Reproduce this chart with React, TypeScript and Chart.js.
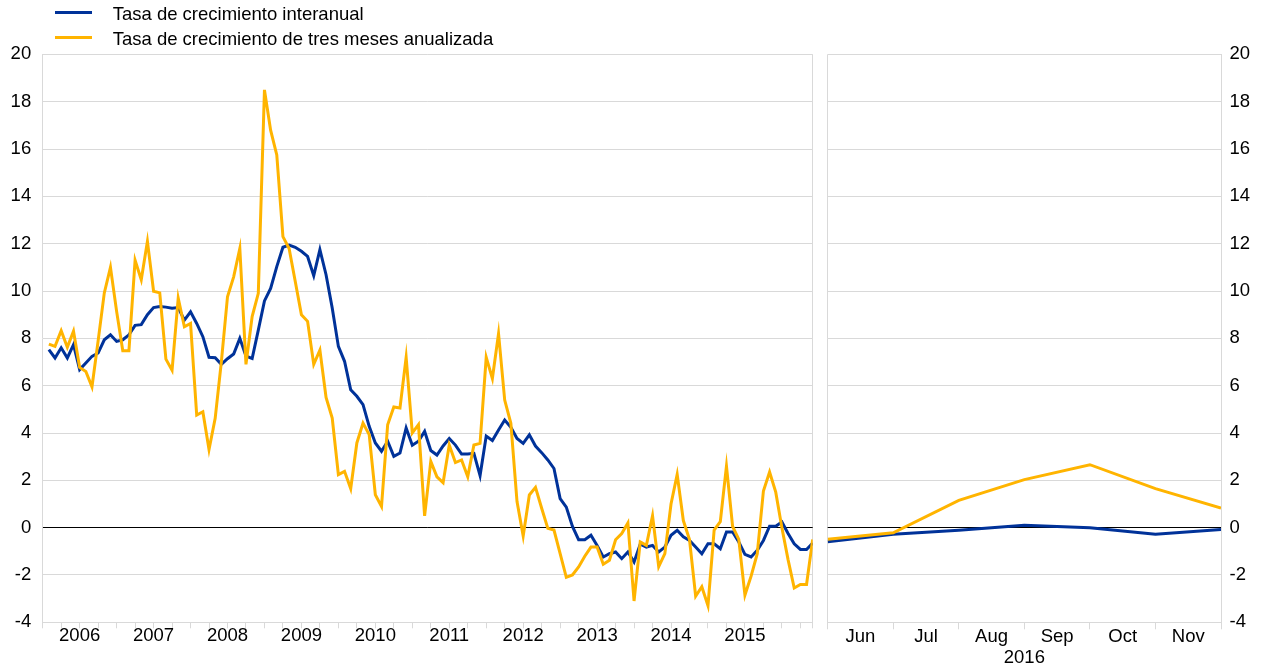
import React, { useEffect, useRef } from 'react';
import { Chart, registerables } from 'chart.js';

Chart.register(...registerables);

const FONT = "'Liberation Sans', Arial, sans-serif";
const GRID = '#d9d9d9';
const BLUE = '#003299';
const YELLOW = '#ffb400';

const seriesLabels = ['Tasa de crecimiento interanual', 'Tasa de crecimiento de tres meses anualizada'];
const yearLabels = ['2006', '2007', '2008', '2009', '2010', '2011', '2012', '2013', '2014', '2015'];
const monthLabels2016 = ['Jun', 'Jul', 'Aug', 'Sep', 'Oct', 'Nov'];
const rightAxisTitle = '2016';

// Monthly, Jan 2006 - May 2016
const interanualMensual = [
  7.52, 7.17, 7.6, 7.17, 7.73, 6.68, 6.96, 7.24, 7.38, 7.94, 8.15, 7.87,
  7.94, 8.15, 8.55, 8.58, 9.0, 9.3, 9.35, 9.32, 9.27, 9.3, 8.77, 9.12,
  8.63, 8.07, 7.2, 7.18, 6.9, 7.14, 7.34, 8.0, 7.25, 7.15, 8.35, 9.58,
  10.11, 11.03, 11.85, 11.94, 11.85, 11.68, 11.46, 10.65, 11.75, 10.69, 9.28, 7.66,
  7.03, 5.83, 5.55, 5.2, 4.28, 3.58, 3.23, 3.65, 3.01, 3.15, 4.21, 3.48,
  3.65, 4.07, 3.26, 3.07, 3.45, 3.77, 3.49, 3.11, 3.11, 3.14, 2.2, 3.87,
  3.68, 4.13, 4.55, 4.24, 3.77, 3.56, 3.92, 3.45, 3.17, 2.86, 2.5, 1.23,
  0.87, 0.05, -0.51, -0.51, -0.32, -0.75, -1.24, -1.1, -1.03, -1.31, -1.03, -1.45,
  -0.7, -0.82, -0.75, -1.03, -0.82, -0.32, -0.11, -0.39, -0.54, -0.82, -1.1, -0.68,
  -0.68, -0.89, -0.18, -0.18, -0.61, -1.13, -1.24, -0.96, -0.54, 0.06, 0.06, 0.24,
  -0.25, -0.68, -0.92, -0.92, -0.65,
];

const tresMesesMensual = [
  7.76, 7.66, 8.32, 7.62, 8.3, 6.77, 6.6, 5.95, 7.9, 9.92, 11.0, 9.14,
  7.48, 7.48, 11.3, 10.48, 12.1, 9.99, 9.92, 7.12, 6.65, 9.7, 8.49, 8.63,
  4.76, 4.9, 3.3, 4.62, 7.0, 9.76, 10.6, 11.8, 6.9, 8.92, 9.9, 18.5,
  16.8, 15.75, 12.3, 11.8, 10.4, 9.0, 8.72, 6.9, 7.5, 5.5, 4.63, 2.24,
  2.38, 1.65, 3.58, 4.42, 3.93, 1.39, 0.9, 4.35, 5.1, 5.06, 7.2, 4.0,
  4.35, 0.5, 2.8, 2.15, 1.9, 3.49, 2.75, 2.86, 2.15, 3.49, 3.56, 7.2,
  6.3, 8.2, 5.39, 4.41, 1.1, -0.35, 1.38, 1.7, 0.82, -0.03, -0.1, -1.1,
  -2.1, -2.0, -1.66, -1.21, -0.82, -0.82, -1.55, -1.38, -0.51, -0.25, 0.2, -3.1,
  -0.6, -0.75, 0.5, -1.65, -1.1, 1.0, 2.25, 0.3, -0.5, -2.9, -2.5, -3.3,
  -0.1, 0.25, 2.6, 0.05, -0.5, -2.85, -2.05, -1.1, 1.55, 2.35, 1.5, 0.0,
  -1.35, -2.55, -2.4, -2.4, -0.5,
];

// End of May .. end of Nov 2016
const interanual2016 = [-0.6, -0.28, -0.11, 0.1, 0.0, -0.28, -0.08];
const tresMeses2016 = [-0.49, -0.22, 1.15, 2.03, 2.66, 1.65, 0.83];

const Y_MIN = -4;
const Y_MAX = 20;
const Y_STEP = 2;

const font = { family: FONT, size: 18.5 };

function lineDataset(label: string, values: number[], color: string, order: number, xOf: (i: number) => number) {
  return {
    label,
    data: values.map((v, i) => ({ x: xOf(i), y: v })),
    borderColor: color,
    backgroundColor: color,
    borderWidth: 3,
    pointRadius: 0,
    tension: 0,
    fill: false,
    order,
  };
}

function yAxis(position: 'left' | 'right', width: number, padding: number) {
  return {
    type: 'linear',
    position,
    min: Y_MIN,
    max: Y_MAX,
    ticks: { stepSize: Y_STEP, font, color: '#000', padding },
    grid: {
      color: (ctx: any) => (ctx.tick && ctx.tick.value === 0 ? '#000' : GRID),
      lineWidth: 1,
      drawTicks: false,
    },
    border: { display: true, color: GRID, width: 1 },
    afterFit: (s: any) => {
      s.width = width;
    },
  };
}

export default function App() {
  const leftRef = useRef<HTMLCanvasElement>(null);
  const rightRef = useRef<HTMLCanvasElement>(null);

  useEffect(() => {
    const nMonths = interanualMensual.length;
    const leftTicks: number[] = [];
    for (let v = 0; v < nMonths; v += 3) leftTicks.push(v);
    leftTicks.push(nMonths);

    const c1 = new Chart(leftRef.current as HTMLCanvasElement, {
      type: 'line',
      data: {
        datasets: [
          lineDataset(seriesLabels[0], interanualMensual, BLUE, 1, (i) => i + 1),
          lineDataset(seriesLabels[1], tresMesesMensual, YELLOW, 0, (i) => i + 1),
        ],
      },
      options: {
        animation: false,
        responsive: true,
        maintainAspectRatio: false,
        layout: { padding: { left: 0, top: 54.4, right: 7.3, bottom: 0 } },
        plugins: { legend: { display: false }, tooltip: { enabled: false } },
        scales: {
          x: {
            type: 'linear',
            min: 0,
            max: nMonths,
            afterBuildTicks: (s: any) => {
              s.ticks = leftTicks.map((v) => ({ value: v }));
            },
            ticks: {
              autoSkip: false,
              maxRotation: 0,
              minRotation: 0,
              font,
              color: '#000',
              padding: -3,
              callback: (v: any) => {
                const n = Number(v);
                return n % 12 === 6 ? yearLabels[(n - 6) / 12] : '';
              },
            },
            grid: {
              drawOnChartArea: true,
              color: (ctx: any) => (ctx.tick && ctx.tick.value === nMonths ? GRID : 'rgba(0,0,0,0)'),
              tickColor: GRID,
              tickLength: 6,
              lineWidth: 1,
            },
            border: { display: true, color: GRID, width: 1 },
            afterFit: (s: any) => {
              s.height = 46.7;
            },
          },
          y: yAxis('left', 42.7, 11.5),
        },
      } as any,
    } as any);

    const rightTicks: number[] = [];
    for (let v = 0; v <= monthLabels2016.length; v += 0.5) rightTicks.push(v);

    const c2 = new Chart(rightRef.current as HTMLCanvasElement, {
      type: 'line',
      data: {
        datasets: [
          lineDataset(seriesLabels[0], interanual2016, BLUE, 1, (i) => i),
          lineDataset(seriesLabels[1], tresMeses2016, YELLOW, 0, (i) => i),
        ],
      },
      options: {
        animation: false,
        responsive: true,
        maintainAspectRatio: false,
        layout: { padding: { left: 7.7, top: 54.4, right: 0, bottom: 0 } },
        plugins: { legend: { display: false }, tooltip: { enabled: false } },
        scales: {
          x: {
            type: 'linear',
            min: 0,
            max: monthLabels2016.length,
            afterBuildTicks: (s: any) => {
              s.ticks = rightTicks.map((v) => ({ value: v }));
            },
            ticks: {
              autoSkip: false,
              maxRotation: 0,
              minRotation: 0,
              font,
              color: '#000',
              padding: -3,
              callback: (v: any) => {
                const n = Number(v);
                return n % 1 === 0.5 ? monthLabels2016[Math.floor(n)] : '';
              },
            },
            grid: {
              drawOnChartArea: true,
              color: (ctx: any) =>
                ctx.tick && (ctx.tick.value === 0 || ctx.tick.value === monthLabels2016.length) ? GRID : 'rgba(0,0,0,0)',
              tickColor: (ctx: any) => (ctx.tick && ctx.tick.value % 1 === 0 ? GRID : 'rgba(0,0,0,0)'),
              tickLength: 7,
              lineWidth: 1,
            },
            border: { display: true, color: GRID, width: 1 },
            title: {
              display: true,
              text: rightAxisTitle,
              font,
              color: '#000',
              padding: { top: 0, bottom: 0 },
            },
            afterFit: (s: any) => {
              s.height = 46.7;
            },
          },
          y: yAxis('right', 48, 8.5),
        },
      } as any,
    } as any);

    return () => {
      c1.destroy();
      c2.destroy();
    };
  }, []);

  const legendText: React.CSSProperties = {
    position: 'absolute',
    left: 112.7,
    fontFamily: FONT,
    fontSize: 18.5,
    lineHeight: '20px',
    color: '#000',
    whiteSpace: 'nowrap',
  };
  const legendLine: React.CSSProperties = {
    position: 'absolute',
    left: 55,
    width: 37,
    height: 3,
  };

  return (
    <div style={{ position: 'fixed', left: 0, top: 0, width: 1269, height: 669, background: '#fff', overflow: 'hidden' }}>
      <div style={{ position: 'absolute', left: 0, top: 0, width: 820, height: 669 }}>
        <canvas ref={leftRef} />
      </div>
      <div style={{ position: 'absolute', left: 820, top: 0, width: 449, height: 669 }}>
        <canvas ref={rightRef} />
      </div>
      <div style={{ ...legendLine, top: 11.3, background: BLUE }} />
      <div style={{ ...legendText, top: 4.3 }}>{seriesLabels[0]}</div>
      <div style={{ ...legendLine, top: 36.3, background: YELLOW }} />
      <div style={{ ...legendText, top: 28.6 }}>{seriesLabels[1]}</div>
    </div>
  );
}
